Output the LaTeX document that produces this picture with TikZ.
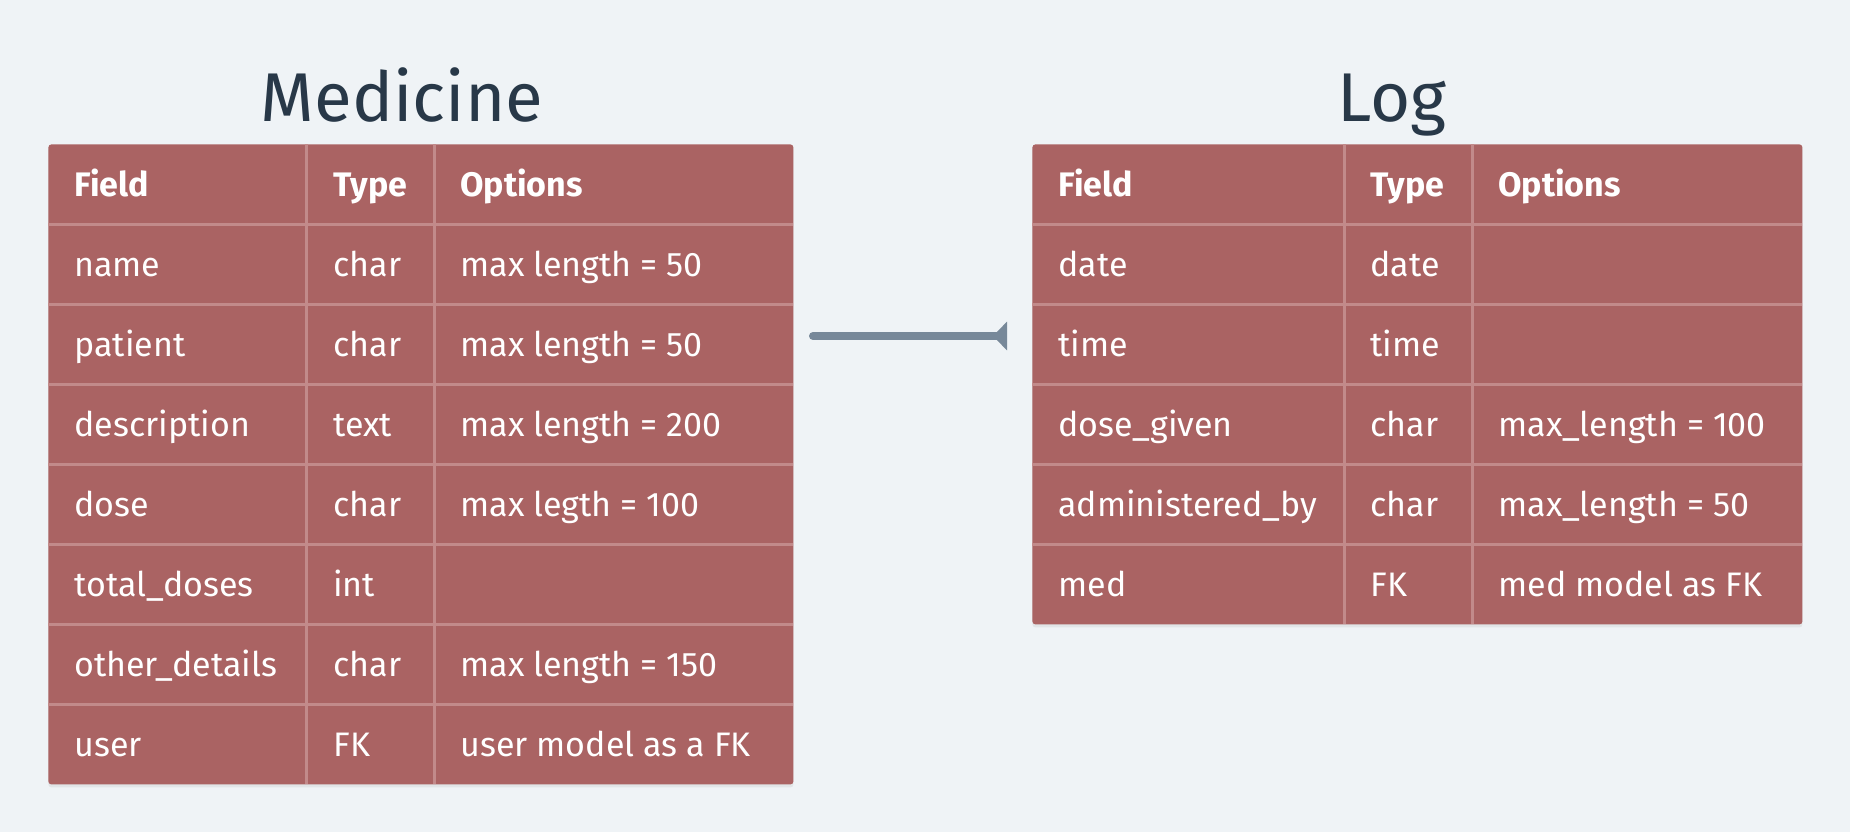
\documentclass[tikz,border=0pt]{standalone}
\usepackage{fontspec}
\setmainfont{Fira Sans}
\usetikzlibrary{arrows.meta,shadows}

\definecolor{bgcol}{RGB}{239,243,246}
\definecolor{cellred}{RGB}{170,99,99}
\definecolor{gridcol}{RGB}{194,138,138}
\definecolor{titlecol}{RGB}{40,56,72}
\definecolor{linkcol}{RGB}{119,136,153}

\tikzset{
	tbl/.style={fill=cellred,rounded corners=1.5pt,anchor=north west,inner sep=0pt,
		drop shadow={opacity=.12,shadow xshift=0pt,shadow yshift=-1.5pt}},
	cell/.style={anchor=base west,inner sep=0pt,text=white,font=\fontsize{17}{20}\selectfont},
	head/.style={cell,font=\fontsize{17}{20}\selectfont\bfseries},
	ttl/.style={anchor=base,inner sep=0pt,text=titlecol,font=\fontsize{34.5}{41}\selectfont},
	sep/.style={draw=gridcol,line width=1.5pt},
	link/.style={draw=linkcol,line width=4pt,line cap=round,
		-{Triangle[reversed,length=7pt,width=14pt]}},
}

\begin{document}
\begin{tikzpicture}[x=.5pt,y=-.5pt]
	\fill[bgcol] (0,0) rectangle (1850,832);
	\useasboundingbox (0,0) rectangle (1850,832);
	
	% titles
	\node[ttl] (medtitle) at (402,121) {Medicine};
	\node[ttl] (logtitle) at (1392,121) {Log};
	
	% Medicine table
	\node[tbl,minimum width=372.5pt,minimum height=320pt] (med) at (48,144) {};
	\foreach \y in {224,304,...,704} \draw[sep] (48,\y) -- (793,\y);
	\draw[sep] (306,144) -- (306,784); \draw[sep] (434,144) -- (434,784);
	\node[head] (m-0-1) at (74,196) {Field};
	\node[head] (m-0-2) at (333,196) {Type};
	\node[head] (m-0-3) at (460,196) {Options};
	\foreach \f/\t/\o [count=\i] in {name/char/max length = 50,
		patient/char/max length = 50, description/text/max length = 200,
		dose/char/max legth = 100, total\_doses/int/{},
		other\_details/char/max length = 150, user/FK/user model as a FK}{
		\node[cell] (m-\i-1) at (74,196+80*\i) {\f};
		\node[cell] (m-\i-2) at (333,196+80*\i) {\t};
		\node[cell] (m-\i-3) at (460,196+80*\i) {\o};
	}
	
	% Log table
	\node[tbl,minimum width=385pt,minimum height=240pt] (log) at (1032,144) {};
	\foreach \y in {224,304,...,544} \draw[sep] (1032,\y) -- (1802,\y);
	\draw[sep] (1344,144) -- (1344,624); \draw[sep] (1472,144) -- (1472,624);
	\node[head] (l-0-1) at (1058,196) {Field};
	\node[head] (l-0-2) at (1370,196) {Type};
	\node[head] (l-0-3) at (1498,196) {Options};
	\foreach \f/\t/\o [count=\i] in {date/date/{}, time/time/{},
		dose\_given/char/max\_length = 100,
		administered\_by/char/max\_length = 50, med/FK/med model as FK}{
		\node[cell] (l-\i-1) at (1058,196+80*\i) {\f};
		\node[cell] (l-\i-2) at (1370,196+80*\i) {\t};
		\node[cell] (l-\i-3) at (1498,196+80*\i) {\o};
	}
	
	% link
	\coordinate (medlink) at (813,336);
	\coordinate (loglink) at (1007,336);
	\draw[link] (medlink) -- (loglink);
\end{tikzpicture}
\end{document}
